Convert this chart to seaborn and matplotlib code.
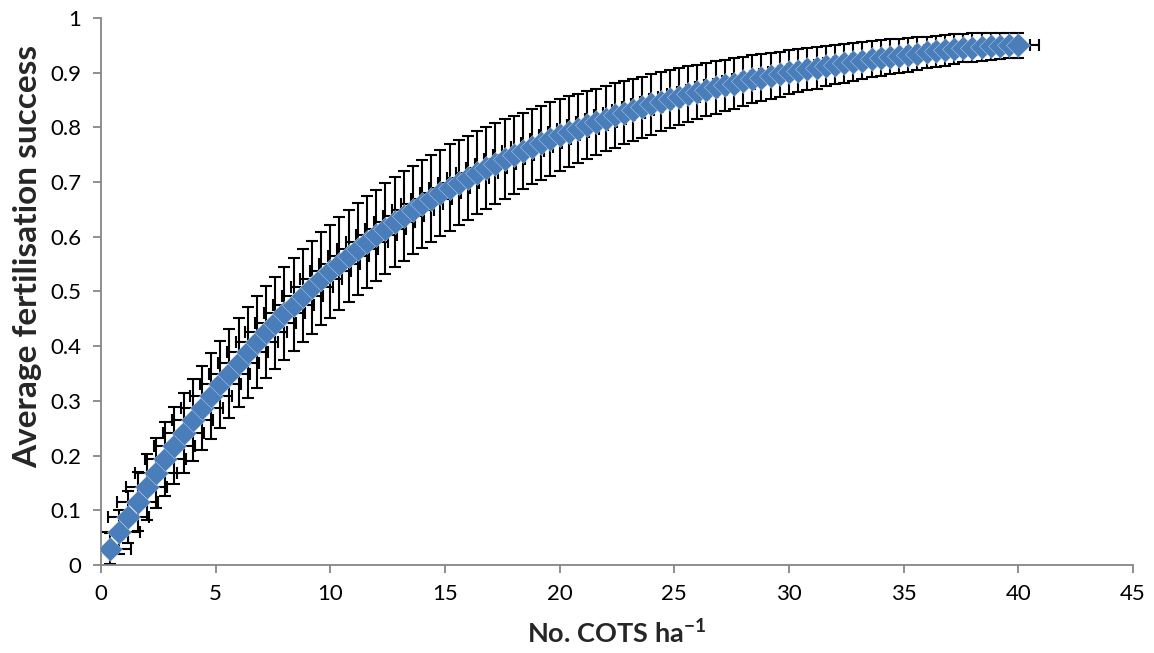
import numpy as np
import pandas as pd
import matplotlib
matplotlib.use('Agg')
import matplotlib.pyplot as plt
import seaborn as sns

# densidade de COTS (por ha) e sucesso medio de fertilizacao
densidade = [0.4, 0.8, 1.2, 1.6, 2.0, 2.4, 2.8, 3.2, 3.6, 4.0,
             4.4, 4.8, 5.2, 5.6, 6.0, 6.4, 6.8, 7.2, 7.6, 8.0,
             8.4, 8.8, 9.2, 9.6, 10.0, 10.4, 10.8, 11.2, 11.6, 12.0,
             12.4, 12.8, 13.2, 13.6, 14.0, 14.4, 14.8, 15.2, 15.6, 16.0,
             16.4, 16.8, 17.2, 17.6, 18.0, 18.4, 18.8, 19.2, 19.6, 20.0,
             20.4, 20.8, 21.2, 21.6, 22.0, 22.4, 22.8, 23.2, 23.6, 24.0,
             24.4, 24.8, 25.2, 25.6, 26.0, 26.4, 26.8, 27.2, 27.6, 28.0,
             28.4, 28.8, 29.2, 29.6, 30.0, 30.4, 30.8, 31.2, 31.6, 32.0,
             32.4, 32.8, 33.2, 33.6, 34.0, 34.4, 34.8, 35.2, 35.6, 36.0,
             36.4, 36.8, 37.2, 37.6, 38.0, 38.4, 38.8, 39.2, 39.6, 40.0]

sucesso = [0.030, 0.060, 0.088, 0.116, 0.143, 0.169, 0.194, 0.218, 0.242, 0.265,
           0.287, 0.309, 0.330, 0.350, 0.370, 0.389, 0.408, 0.426, 0.443, 0.460,
           0.476, 0.492, 0.508, 0.523, 0.537, 0.551, 0.565, 0.578, 0.591, 0.603,
           0.615, 0.627, 0.638, 0.649, 0.660, 0.670, 0.680, 0.690, 0.699, 0.708,
           0.717, 0.726, 0.734, 0.742, 0.750, 0.757, 0.765, 0.772, 0.779, 0.786,
           0.792, 0.798, 0.804, 0.810, 0.816, 0.822, 0.827, 0.832, 0.837, 0.842,
           0.847, 0.852, 0.856, 0.861, 0.865, 0.869, 0.873, 0.877, 0.880, 0.884,
           0.888, 0.891, 0.894, 0.897, 0.901, 0.904, 0.907, 0.909, 0.912, 0.915,
           0.917, 0.920, 0.922, 0.925, 0.927, 0.929, 0.931, 0.933, 0.935, 0.937,
           0.939, 0.941, 0.943, 0.945, 0.946, 0.947, 0.948, 0.949, 0.950, 0.950]

erro_y = [0.029, 0.040, 0.048, 0.054, 0.060, 0.064, 0.067, 0.070, 0.073, 0.075,
          0.077, 0.079, 0.080, 0.081, 0.082, 0.083, 0.084, 0.084, 0.084, 0.085,
          0.085, 0.085, 0.085, 0.085, 0.085, 0.085, 0.084, 0.084, 0.084, 0.083,
          0.083, 0.082, 0.082, 0.081, 0.081, 0.080, 0.079, 0.079, 0.078, 0.077,
          0.076, 0.075, 0.074, 0.073, 0.071, 0.070, 0.069, 0.068, 0.067, 0.066,
          0.065, 0.063, 0.062, 0.061, 0.060, 0.059, 0.058, 0.057, 0.056, 0.055,
          0.054, 0.053, 0.052, 0.051, 0.050, 0.049, 0.048, 0.047, 0.046, 0.045,
          0.044, 0.043, 0.042, 0.041, 0.040, 0.039, 0.039, 0.038, 0.037, 0.036,
          0.036, 0.035, 0.034, 0.033, 0.033, 0.032, 0.031, 0.031, 0.030, 0.029,
          0.028, 0.028, 0.027, 0.026, 0.026, 0.025, 0.025, 0.024, 0.023, 0.023]

erro_x = 0.9

x_ticks = [0, 5, 10, 15, 20, 25, 30, 35, 40, 45]
y_ticks = [0, 0.1, 0.2, 0.3, 0.4, 0.5, 0.6, 0.7, 0.8, 0.9, 1]
y_tick_labels = ['0', '0.1', '0.2', '0.3', '0.4', '0.5', '0.6', '0.7', '0.8', '0.9', '1']

df = pd.DataFrame({'densidade': densidade, 'sucesso': sucesso, 'erro_y': erro_y})

sns.set_style('white')
plt.rcParams['font.family'] = ['Lato', 'DejaVu Sans']
plt.rcParams['mathtext.fontset'] = 'custom'
plt.rcParams['mathtext.rm'] = 'Lato'
plt.rcParams['mathtext.bf'] = 'Lato:bold'

fig = plt.figure(figsize=(11.54, 6.53), dpi=100)
ax = fig.add_axes([0.0875, 0.1348, 0.8943, 0.8376])

# barras de erro atras dos marcadores
ax.errorbar(df['densidade'], df['sucesso'], yerr=df['erro_y'], xerr=erro_x,
            fmt='none', ecolor='black', elinewidth=1.5, capsize=4.5,
            capthick=1.5, zorder=2)
sns.scatterplot(data=df, x='densidade', y='sucesso', marker='D', s=150,
                color='#4a7ebb', edgecolor='#c9d7ea', linewidth=0.3, ax=ax,
                zorder=3)

ax.set_xlim(0, 45)
ax.set_ylim(0, 1)
ax.set_xticks(x_ticks)
ax.set_xticklabels([str(t) for t in x_ticks])
ax.set_yticks(y_ticks)
ax.set_yticklabels(y_tick_labels)

for lado in ['top', 'right']:
    ax.spines[lado].set_visible(False)
for lado in ['left', 'bottom']:
    ax.spines[lado].set_color('#868686')
    ax.spines[lado].set_linewidth(1.3)

ax.tick_params(axis='both', direction='out', length=6, width=1.3,
               color='#868686', labelsize=16, labelcolor='black', pad=8,
               left=True, bottom=True)

ax.set_xlabel(r'No. COTS ha$^{\mathbf{{-}1}}$', fontsize=19.5, fontweight='bold', labelpad=10)
ax.set_ylabel('Average fertilisation success', fontsize=24, fontweight='bold')
ax.yaxis.set_label_coords(-0.057, 0.565)

fig.savefig('out.png', dpi=100)
